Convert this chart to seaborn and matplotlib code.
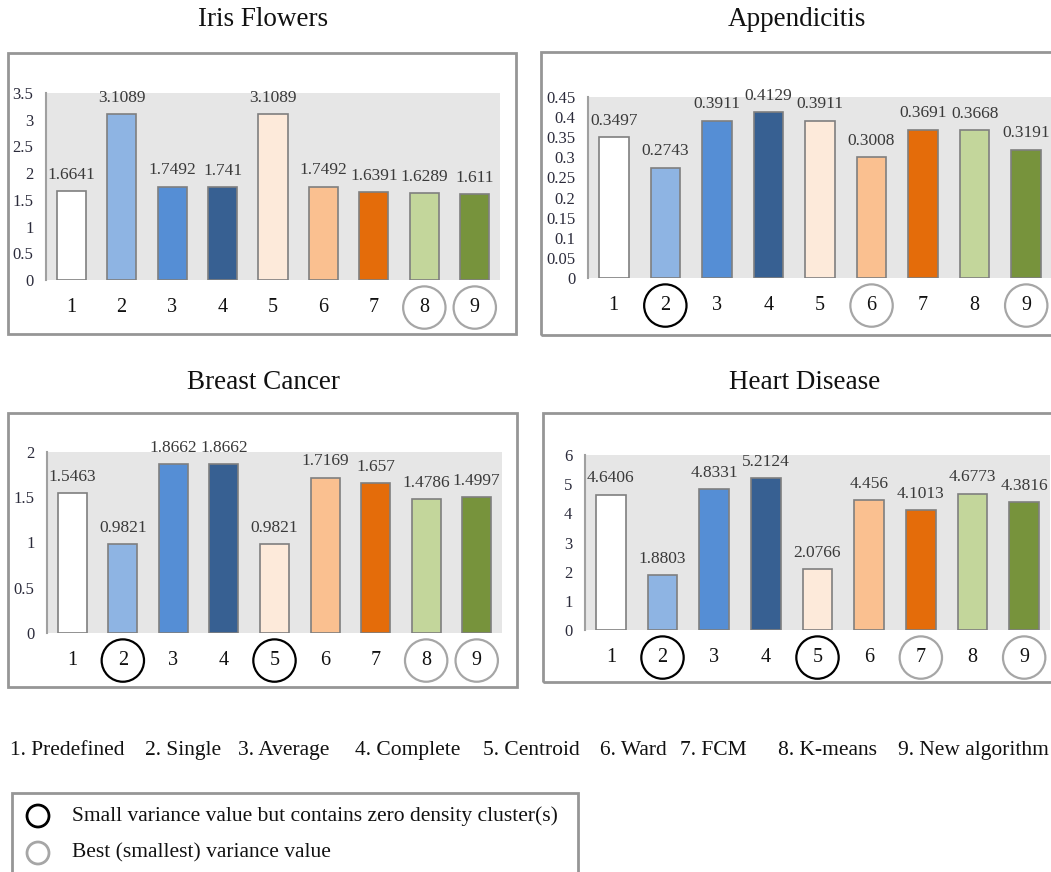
import matplotlib
matplotlib.use("Agg")
import matplotlib.pyplot as plt
from matplotlib.patches import Rectangle, Ellipse
import seaborn as sns
import pandas as pd

# ---- data -------------------------------------------------------------
methods = ["1", "2", "3", "4", "5", "6", "7", "8", "9"]
method_names = ["1. Predefined", "2. Single", "3. Average", "4. Complete",
                "5. Centroid", "6. Ward", "7. FCM", "8. K-means",
                "9. New algorithm"]
bar_colors = ["#FFFFFF", "#8EB4E3", "#558ED5", "#376092", "#FDEADA",
              "#FAC090", "#E46C0A", "#C3D69B", "#77933C"]

iris_values = [1.6641, 3.1089, 1.7492, 1.741, 3.1089, 1.7492, 1.6391, 1.6289, 1.611]
appendicitis_values = [0.3497, 0.2743, 0.3911, 0.4129, 0.3911, 0.3008, 0.3691, 0.3668, 0.3191]
breast_values = [1.5463, 0.9821, 1.8662, 1.8662, 0.9821, 1.7169, 1.657, 1.4786, 1.4997]
heart_values = [4.6406, 1.8803, 4.8331, 5.2124, 2.0766, 4.456, 4.1013, 4.6773, 4.3816]

iris_yticks = [0, 0.5, 1, 1.5, 2, 2.5, 3, 3.5]
appendicitis_yticks = [0, 0.05, 0.1, 0.15, 0.2, 0.25, 0.3, 0.35, 0.4, 0.45]
breast_yticks = [0, 0.5, 1, 1.5, 2]
heart_yticks = [0, 1, 2, 3, 4, 5, 6]

legend_texts = ["Small variance value but contains zero density cluster(s)",
                "Best (smallest) variance value"]

# ---- style ------------------------------------------------------------
sns.set_style("white")
plt.rcParams["font.family"] = ["Liberation Serif", "DejaVu Serif"]

W, H = 1051, 872
fig = plt.figure(figsize=(W / 100, H / 100), dpi=100)

ZERO_COLOR = "#000000"
BEST_COLOR = "#A6A6A6"
FRAME_COLOR = "#969696"
PLOT_BG = "#E6E6E6"


def fx(x):
    return x / W


def fy(y):
    return 1 - y / H


def frame(x0, y0, x1, y1):
    fig.add_artist(Rectangle((fx(x0), fy(y1)), fx(x1) - fx(x0), fy(y0) - fy(y1),
                             transform=fig.transFigure, fill=False,
                             ec=FRAME_COLOR, lw=2))


def panel(title, title_xy, frame_box, ax_box, values, yticks,
          zero_marks, best_marks):
    frame(*frame_box)
    fig.text(fx(title_xy[0]), fy(title_xy[1]), title, ha="center", va="center",
             fontsize=19.5, color="#111111")
    l, t, r, b = ax_box
    ax = fig.add_axes([fx(l), fy(b), fx(r) - fx(l), fy(t) - fy(b)])
    df = pd.DataFrame({"method": methods, "value": values})
    sns.barplot(data=df, x="method", y="value", hue="method", order=methods,
                hue_order=methods, palette=bar_colors, legend=False,
                saturation=1, width=0.575, edgecolor="#7F7F7F", linewidth=1.2,
                ax=ax)
    ax.set_facecolor(PLOT_BG)
    ax.set_xlim(-0.5, 8.5)
    ax.set_ylim(yticks[0], yticks[-1])
    ax.set_yticks(yticks)
    ax.set_yticklabels([f"{v:g}" for v in yticks], color="#2B2B3B", fontsize=12)
    ax.set_xlabel("")
    ax.set_ylabel("")
    for side in ["top", "right", "bottom"]:
        ax.spines[side].set_visible(False)
    ax.spines["left"].set_color("#A0A0A0")
    ax.spines["left"].set_linewidth(1.5)
    ax.tick_params(axis="y", length=0, pad=9)
    ax.tick_params(axis="x", length=0, pad=13, labelsize=14.5, labelcolor="#111111")
    for container in ax.containers:
        ax.bar_label(container,
                     labels=[f"{v:g}" for v in container.datavalues],
                     padding=6, fontsize=12.5, color="#3A3A3A")
    for lbl in ax.get_xticklabels():
        txt = lbl.get_text()
        if txt in zero_marks:
            lbl.set_bbox(dict(boxstyle="circle,pad=0.58", fc="none",
                              ec=ZERO_COLOR, lw=1.6))
        elif txt in best_marks:
            lbl.set_bbox(dict(boxstyle="circle,pad=0.58", fc="none",
                              ec=BEST_COLOR, lw=1.6))
    return ax


panel("Iris Flowers", (263, 20), (8, 53, 516, 334), (46, 93, 500, 280),
      iris_values, iris_yticks, [], ["8", "9"])
panel("Appendicitis", (797, 20), (541, 52, 1070, 335), (588, 97, 1052, 278),
      appendicitis_values, appendicitis_yticks, ["2"], ["6", "9"])
panel("Breast Cancer", (263, 382), (8, 413, 517, 687), (47, 452, 502, 633),
      breast_values, breast_yticks, ["2", "5"], ["8", "9"])
panel("Heart Disease", (805, 382), (543, 413, 1070, 682), (585, 455, 1050, 630),
      heart_values, heart_yticks, ["2", "5"], ["7", "9"])

# method key along the bottom
name_x = [10, 145, 238, 355, 483, 600, 680, 778, 898]
for x, name in zip(name_x, method_names):
    fig.text(fx(x), fy(750), name, ha="left", va="center", fontsize=15.5,
             color="#111111")

# circle legend
frame(12, 793, 578, 890)
for (cy, col, txt) in [(816, ZERO_COLOR, legend_texts[0]),
                       (853, BEST_COLOR, legend_texts[1])]:
    fig.add_artist(Ellipse((fx(38), fy(cy)), 22 / W, 22 / H,
                           transform=fig.transFigure, fill=False, ec=col, lw=2))
    fig.text(fx(72), fy(cy), txt, ha="left", va="center", fontsize=15.5,
             color="#111111")

fig.savefig("out.png", dpi=100)
